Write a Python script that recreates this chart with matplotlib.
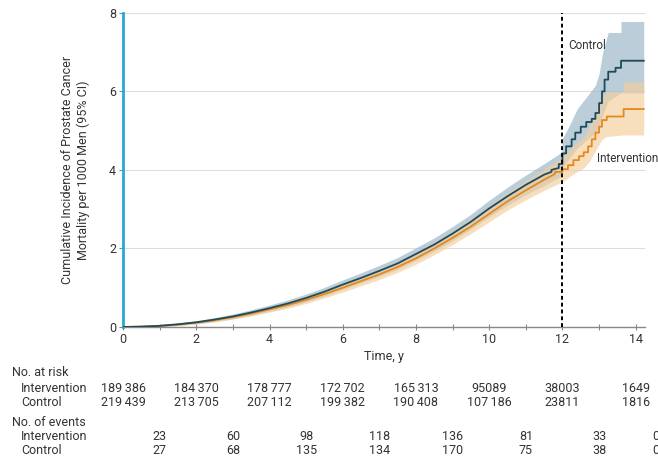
import matplotlib
matplotlib.use("Agg")
import matplotlib.pyplot as plt

plt.rcParams['font.family'] = ['Liberation Sans Narrow', 'Roboto', 'DejaVu Sans']

# Control estimate (time, cumulative incidence per 1000)
ctrl_t = [0.0, 0.5, 1.0, 1.5, 2.0, 2.5, 3.0, 3.5, 4.0, 4.5, 5.0, 5.5, 6.0, 6.5, 7.0, 7.5,
          8.0, 8.5, 9.0, 9.5, 10.0, 10.5, 11.0, 11.5,
          11.7, 11.7, 11.9, 11.9, 12.0, 12.0, 12.1, 12.1, 12.25, 12.25, 12.35, 12.35,
          12.5, 12.5, 12.65, 12.65, 12.8, 12.8, 12.9, 12.9, 13.0, 13.0, 13.08, 13.08,
          13.15, 13.15, 13.25, 13.25, 13.45, 13.45, 13.6, 13.6, 14.22]
ctrl_y = [0.00, 0.01, 0.03, 0.07, 0.12, 0.19, 0.27, 0.37, 0.48, 0.60, 0.74, 0.90, 1.08, 1.25,
          1.43, 1.62, 1.86, 2.10, 2.38, 2.68, 3.02, 3.33, 3.62, 3.88,
          3.95, 4.00, 4.05, 4.15, 4.15, 4.42, 4.42, 4.60, 4.60, 4.78, 4.78, 4.95,
          4.95, 5.10, 5.10, 5.22, 5.22, 5.30, 5.30, 5.45, 5.45, 5.70, 5.70, 6.00,
          6.00, 6.30, 6.30, 6.50, 6.50, 6.60, 6.60, 6.78, 6.78]

# Control 95% CI
ctrl_band_t = [0.0, 0.5, 1.0, 1.5, 2.0, 2.5, 3.0, 3.5, 4.0, 4.5, 5.0, 5.5, 6.0, 6.5, 7.0, 7.5,
               8.0, 8.5, 9.0, 9.5, 10.0, 10.5, 11.0, 11.5, 11.98, 12.0, 12.2, 12.4, 12.65,
               12.9, 13.0, 13.1, 13.25, 13.6, 13.6, 14.22]
ctrl_lo = [0.00, 0.00, 0.01, 0.04, 0.08, 0.14, 0.21, 0.30, 0.40, 0.51, 0.64, 0.79, 0.96, 1.12,
           1.29, 1.47, 1.70, 1.93, 2.20, 2.49, 2.81, 3.10, 3.37, 3.60, 3.85, 4.05, 4.30, 4.55,
           4.75, 4.95, 5.10, 5.40, 5.75, 5.96, 5.96, 5.96]
ctrl_hi = [0.00, 0.02, 0.05, 0.10, 0.16, 0.24, 0.33, 0.44, 0.56, 0.69, 0.84, 1.01, 1.20, 1.38,
           1.57, 1.77, 2.02, 2.27, 2.56, 2.87, 3.23, 3.56, 3.87, 4.16, 4.45, 4.80, 5.15, 5.55,
           5.85, 6.15, 6.45, 7.00, 7.50, 7.50, 7.78, 7.78]

# Intervention estimate
int_t = [0.0, 0.5, 1.0, 1.5, 2.0, 2.5, 3.0, 3.5, 4.0, 4.5, 5.0, 5.5, 6.0, 6.5, 7.0, 7.5,
         8.0, 8.5, 9.0, 9.5, 10.0, 10.5, 11.0, 11.5,
         11.8, 11.8, 12.0, 12.0, 12.15, 12.15, 12.3, 12.3, 12.45, 12.45, 12.58, 12.58,
         12.7, 12.7, 12.8, 12.8, 12.9, 12.9, 13.0, 13.0, 13.08, 13.08, 13.21, 13.21,
         13.67, 13.67, 14.22]
int_y = [0.00, 0.01, 0.03, 0.06, 0.11, 0.17, 0.25, 0.34, 0.45, 0.56, 0.69, 0.84, 1.00, 1.17,
         1.34, 1.53, 1.75, 2.00, 2.27, 2.56, 2.88, 3.20, 3.48, 3.75,
         3.90, 3.95, 3.95, 4.02, 4.02, 4.12, 4.12, 4.25, 4.25, 4.35, 4.35, 4.45,
         4.45, 4.60, 4.60, 4.78, 4.78, 4.95, 4.95, 5.10, 5.10, 5.27, 5.27, 5.36,
         5.36, 5.55, 5.55]

# Intervention 95% CI
int_band_t = [0.0, 0.5, 1.0, 1.5, 2.0, 2.5, 3.0, 3.5, 4.0, 4.5, 5.0, 5.5, 6.0, 6.5, 7.0, 7.5,
              8.0, 8.5, 9.0, 9.5, 10.0, 10.5, 11.0, 11.5, 12.0, 12.3, 12.58, 12.76, 12.94,
              13.08, 13.21, 13.67, 13.67, 14.22]
int_lo = [0.00, 0.00, 0.01, 0.04, 0.08, 0.13, 0.20, 0.28, 0.38, 0.48, 0.60, 0.74, 0.89, 1.05,
          1.21, 1.39, 1.60, 1.84, 2.10, 2.38, 2.68, 2.98, 3.24, 3.48, 3.70, 3.90, 4.05, 4.25,
          4.55, 4.78, 4.85, 4.89, 4.89, 4.89]
int_hi = [0.00, 0.02, 0.05, 0.09, 0.14, 0.21, 0.30, 0.40, 0.52, 0.64, 0.78, 0.94, 1.11, 1.29,
          1.47, 1.67, 1.90, 2.16, 2.44, 2.74, 3.08, 3.42, 3.72, 4.02, 4.32, 4.62, 4.85, 5.15,
          5.55, 5.85, 6.00, 6.00, 6.24, 6.24]

# Risk table
risk_years = [0, 2, 4, 6, 8, 10, 12, 14]
risk_int = [189386, 184370, 178777, 172702, 165313, 95089, 38003, 1649]
risk_ctrl = [219439, 213705, 207112, 199382, 190408, 107186, 23811, 1816]
event_years = [1, 3, 5, 7, 9, 11, 13, 14.55]
events_int = [23, 60, 98, 118, 136, 81, 33, 0]
events_ctrl = [27, 68, 135, 134, 170, 75, 38, 0]

C_CTRL = "#1f4a58"
C_CTRL_BAND = "#9db8c8"
C_INT = "#e3891f"
C_INT_BAND = "#f3cf9c"
C_TXT = "#333333"

fig = plt.figure(figsize=(6.58, 4.58), dpi=100)
ax = fig.add_axes([0.187, 0.286, 0.793, 0.686])

ax.fill_between(ctrl_band_t, ctrl_lo, ctrl_hi, color=C_CTRL_BAND, alpha=0.7, lw=0, zorder=2)
ax.fill_between(int_band_t, int_lo, int_hi, color=C_INT_BAND, alpha=0.65, lw=0, zorder=2)
ax.plot(int_t, int_y, color=C_INT, lw=1.3, zorder=3)
ax.plot(ctrl_t, ctrl_y, color=C_CTRL, lw=1.3, zorder=4)

ax.axvline(12, color="black", lw=1.4, ls=(0, (2, 1.5)), zorder=5)

ax.text(12.15, 7.18, "Control", color=C_TXT, fontsize=8.5, va="center", ha="left")
ax.text(12.95, 4.28, "Intervention", color=C_TXT, fontsize=8.5, va="center", ha="left")

ax.set_xlim(0, 14.25)
ax.set_ylim(0, 8)
ax.set_yticks([0, 2, 4, 6, 8])
ax.set_xticks(range(0, 15))
ax.set_xticklabels([str(v) if v % 2 == 0 else "" for v in range(0, 15)])
ax.yaxis.grid(True, color="#dddddd", lw=0.8)
ax.set_axisbelow(True)
for s in ["top", "right"]:
    ax.spines[s].set_visible(False)
ax.spines["left"].set_color("#2aa8d2")
ax.spines["left"].set_linewidth(2)
ax.spines["bottom"].set_color("#888888")
ax.spines["bottom"].set_linewidth(1)
ax.tick_params(axis="x", direction="inout", length=4, color="#888888", labelsize=9,
               labelcolor=C_TXT, pad=2)
ax.tick_params(axis="y", direction="out", length=3, color="#2aa8d2", labelsize=9,
               labelcolor=C_TXT, pad=2)

ax.set_xlabel("Time, y", fontsize=9, color=C_TXT, labelpad=3)
ax.set_ylabel("Cumulative Incidence of Prostate Cancer\nMortality per 1000 Men (95% CI)",
              fontsize=9, color=C_TXT, labelpad=14)

# Table below the plot
def fy(px):
    return 1 - px / 458

def fmt(n):
    s = str(n)
    if len(s) == 6:
        return s[:3] + "\u2009" + s[3:]
    return s

xf = 12 / 658
fig.text(xf, fy(373), "No. at risk", fontsize=9, color=C_TXT, va="center")
fig.text(xf + 0.014, fy(388), "Intervention", fontsize=9, color=C_TXT, va="center")
fig.text(xf + 0.014, fy(403), "Control", fontsize=9, color=C_TXT, va="center")
fig.text(xf, fy(423), "No. of events", fontsize=9, color=C_TXT, va="center")
fig.text(xf + 0.014, fy(437), "Intervention", fontsize=9, color=C_TXT, va="center")
fig.text(xf + 0.014, fy(451), "Control", fontsize=9, color=C_TXT, va="center")

def row(xs, vals, py):
    for x, v in zip(xs, vals):
        disp_x = ax.transData.transform((x, 0))[0]
        fx = fig.transFigure.inverted().transform((disp_x, 0))[0]
        fig.text(fx, fy(py), fmt(v), fontsize=9, color=C_TXT, ha="center", va="center")

row(risk_years, risk_int, 388)
row(risk_years, risk_ctrl, 403)
row(event_years, events_int, 437)
row(event_years, events_ctrl, 451)

fig.savefig("out.png", dpi=100, facecolor="white")
